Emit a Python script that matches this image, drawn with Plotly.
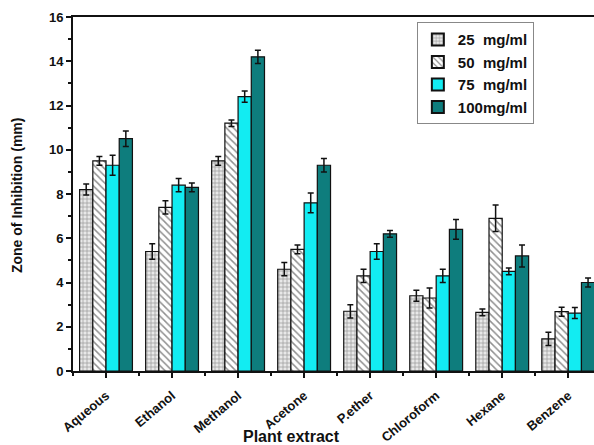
import plotly.graph_objects as go

categories = ["Aqueous", "Ethanol", "Methanol", "Acetone", "P.ether", "Chloroform", "Hexane", "Benzene"]
series_names = ["25  mg/ml", "50  mg/ml", "75  mg/ml", "100mg/ml"]
v25 = [8.2, 5.4, 9.5, 4.6, 2.7, 3.4, 2.65, 1.45]
v50 = [9.5, 7.4, 11.2, 5.5, 4.3, 3.3, 6.9, 2.68]
v75 = [9.3, 8.4, 12.4, 7.6, 5.4, 4.3, 4.5, 2.62]
v100 = [10.5, 8.3, 14.2, 9.3, 6.2, 6.4, 5.2, 4.0]
e25 = [0.25, 0.35, 0.2, 0.3, 0.3, 0.25, 0.15, 0.3]
e50 = [0.2, 0.3, 0.15, 0.2, 0.3, 0.45, 0.6, 0.2]
e75 = [0.45, 0.3, 0.25, 0.45, 0.35, 0.3, 0.15, 0.25]
e100 = [0.35, 0.2, 0.3, 0.3, 0.15, 0.45, 0.5, 0.2]

xpos = list(range(len(categories)))
fig = go.Figure()
styles = [
    dict(color="white", pattern=dict(shape="+", fgcolor="#555555", bgcolor="#e8e8e8", size=4, solidity=0.35)),
    dict(color="white", pattern=dict(shape="\\", fgcolor="#222222", bgcolor="white", size=5, solidity=0.3)),
    dict(color="#12ecf2"),
    dict(color="#0e7d7d"),
]
for name, vals, errs, st in zip(series_names, [v25, v50, v75, v100], [e25, e50, e75, e100], styles):
    fig.add_trace(go.Bar(
        x=xpos, y=vals, name=name,
        marker=dict(line=dict(color="#111111", width=1.2), **st),
        error_y=dict(type="data", array=errs, visible=True, color="#111111", thickness=1.5, width=3),
    ))

font_family = "Liberation Sans, Arial, sans-serif"
fig.update_layout(
    width=594, height=445,
    margin=dict(l=73, r=0, t=17, b=74),
    paper_bgcolor="white", plot_bgcolor="white",
    barmode="group", bargap=0.2, bargroupgap=0,
    font=dict(family=font_family, color="#111111"),
    showlegend=True,
    legend=dict(x=0.66, y=0.985, xanchor="left", yanchor="top",
                bordercolor="#888888", borderwidth=1, bgcolor="white",
                font=dict(size=15, family=font_family, weight="bold"),
                tracegroupgap=0, itemsizing="constant"),
    annotations=[
        dict(text="<b>Plant extract</b>", xref="paper", yref="paper", x=0.42, y=-0.186,
             xanchor="center", yanchor="middle", showarrow=False,
             font=dict(size=16, family=font_family, color="#111111")),
        dict(text="<b>Zone of Inhibition (mm)</b>", xref="paper", yref="paper", x=-0.1075, y=0.497,
             xanchor="center", yanchor="middle", showarrow=False, textangle=-90,
             font=dict(size=14, family=font_family, color="#111111")),
    ],
)
fig.update_xaxes(
    automargin=False,
    range=[-0.5, 7.39], tickmode="array", tickvals=xpos, ticktext=categories,
    tickangle=-40, tickfont=dict(size=13, family=font_family, weight="bold"),
    ticklabelstandoff=5,
    showline=True, linecolor="#111111", linewidth=2, mirror=True,
    ticks="outside", ticklen=5, tickwidth=2, tickcolor="#111111",
    minor=dict(tick0=0.5, dtick=1, ticks="outside", ticklen=3, tickwidth=1.5, tickcolor="#111111"),
    showgrid=False, zeroline=False,
)
fig.update_yaxes(
    automargin=False,
    range=[0, 16], dtick=2, tickfont=dict(size=13, family=font_family, weight="bold"),
    showline=True, linecolor="#111111", linewidth=2,
    ticks="outside", ticklen=5, tickwidth=2, tickcolor="#111111",
    minor=dict(dtick=1, ticks="outside", ticklen=3, tickwidth=1.5, tickcolor="#111111"),
    showgrid=False, zeroline=False,
)
fig.write_html("out.html", config={"displayModeBar": False},
               post_script="document.body.style.margin='0';")
